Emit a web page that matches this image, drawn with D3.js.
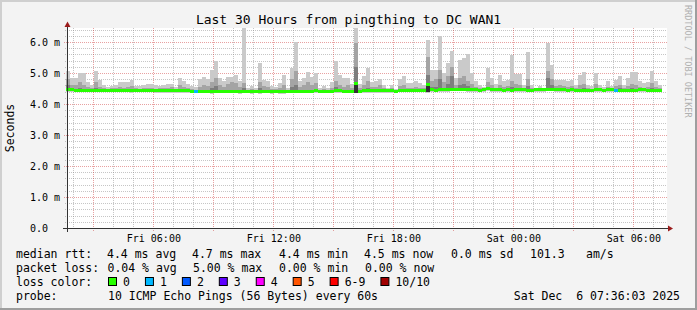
<!DOCTYPE html>
<meta charset="utf-8">
<head>
    <title>Last 30 Hours from pingthing to DC WAN1</title>
    <script src="https://cdn.jsdelivr.net/npm/d3@7"></script>
</head>
<style>
body { margin: 0; background: #fff; }
svg text { font-family: 'DejaVu Sans Mono', monospace; fill: #000; }
.mono { white-space: pre; }
</style>
<body>
<svg width="697" height="310"></svg>
<script>

// smoke data: one column every 12 minutes, values in ms
const colStart = new Date(2025, 11, 5, 1, 38, 0);
const stepMin = 12;

const pingMax = [
    5.05, 4.83, 4.83, 5.00, 5.00, 4.72, 4.61, 5.05, 4.77, 4.61,
    4.56, 4.58, 4.61, 4.72, 4.72, 4.72, 4.77, 4.58, 4.58, 4.61,
    4.63, 4.63, 4.60, 4.58, 4.61, 4.63, 4.65, 4.54, 4.84, 4.75,
    4.63, 4.58, 4.54, 4.80, 4.87, 4.80, 5.10, 5.38, 4.84, 4.73,
    4.87, 4.87, 4.95, 4.73, 6.45, 4.50, 4.58, 4.52, 5.32, 4.78,
    4.73, 4.57, 4.55, 4.68, 4.92, 4.52, 5.15, 6.00, 4.73, 4.84,
    5.03, 4.86, 5.00, 4.52, 4.57, 4.52, 4.70, 5.40, 4.95, 4.85,
    4.85, 4.65, 6.45, 4.65, 4.90, 5.15, 4.72, 4.75, 4.80, 4.62,
    4.52, 4.60, 4.48, 4.80, 4.90, 4.68, 4.68, 4.75, 4.68, 4.62,
    6.05, 5.11, 5.11, 6.20, 5.00, 5.32, 5.72, 4.84, 5.43, 5.48,
    5.61, 5.00, 4.73, 4.62, 4.54, 5.16, 4.84, 4.65, 4.92, 4.75,
    4.78, 5.57, 4.97, 4.97, 4.62, 5.68, 4.62, 4.52, 4.57, 4.52,
    5.97, 5.25, 4.78, 4.78, 4.78, 4.75, 4.78, 4.62, 4.95, 5.03,
    4.62, 4.57, 5.00, 4.62, 4.54, 4.75, 4.57, 4.78, 4.89, 4.62,
    4.84, 5.03, 5.03, 4.73, 4.68, 4.71, 5.07, 4.73, 4.62
];

const ping9 = [
    4.80, 4.60, 4.62, 4.70, 4.62, 4.55, 4.52, 4.70, 4.55, 4.50,
    4.48, 4.50, 4.52, 4.55, 4.52, 4.55, 4.58, 4.50, 4.48, 4.50,
    4.52, 4.50, 4.48, 4.50, 4.52, 4.50, 4.55, 4.47, 4.60, 4.55,
    4.50, 4.48, 4.46, 4.55, 4.60, 4.58, 4.70, 4.84, 4.62, 4.55,
    4.65, 4.70, 4.68, 4.55, 4.68, 4.42, 4.48, 4.45, 4.70, 4.58,
    4.55, 4.48, 4.47, 4.52, 4.62, 4.45, 4.80, 5.05, 4.55, 4.62,
    4.70, 4.60, 4.68, 4.45, 4.48, 4.46, 4.52, 4.75, 4.62, 4.55,
    4.60, 4.50, 5.97, 4.52, 4.60, 4.75, 4.55, 4.55, 4.60, 4.50,
    4.48, 4.50, 4.44, 4.58, 4.62, 4.52, 4.52, 4.55, 4.52, 4.50,
    5.50, 4.75, 4.80, 5.10, 4.70, 4.90, 5.20, 4.62, 4.85, 4.90,
    4.73, 4.65, 4.55, 4.50, 4.52, 4.70, 4.60, 4.52, 4.62, 4.55,
    4.58, 4.75, 4.65, 4.62, 4.50, 4.80, 4.52, 4.48, 4.50, 4.48,
    5.05, 4.80, 4.58, 4.60, 4.58, 4.55, 4.58, 4.50, 4.62, 4.65,
    4.50, 4.48, 4.65, 4.50, 4.48, 4.55, 4.48, 4.58, 4.60, 4.50,
    4.58, 4.65, 4.62, 4.55, 4.52, 4.55, 4.68, 4.55, 4.50
];

const ping8 = [
    4.60, 4.49, 4.48, 4.52, 4.47, 4.48, 4.47, 4.52, 4.47, 4.47,
    4.47, 4.48, 4.47, 4.47, 4.48, 4.48, 4.47, 4.47, 4.47, 4.47,
    4.47, 4.47, 4.47, 4.46, 4.46, 4.46, 4.46, 4.46, 4.45, 4.45,
    4.45, 4.44, 4.43, 4.44, 4.43, 4.43, 4.50, 4.58, 4.43, 4.43,
    4.43, 4.43, 4.43, 4.43, 4.52, 4.42, 4.42, 4.43, 4.52, 4.43,
    4.43, 4.43, 4.43, 4.42, 4.42, 4.43, 4.55, 4.60, 4.43, 4.44,
    4.44, 4.44, 4.45, 4.44, 4.44, 4.44, 4.44, 4.55, 4.45, 4.44,
    4.44, 4.44, 5.20, 4.44, 4.45, 4.50, 4.45, 4.45, 4.45, 4.45,
    4.45, 4.45, 4.44, 4.47, 4.48, 4.48, 4.48, 4.48, 4.48, 4.48,
    4.95, 4.55, 4.55, 4.80, 4.49, 4.65, 4.90, 4.51, 4.62, 4.65,
    4.58, 4.50, 4.49, 4.48, 4.50, 4.55, 4.50, 4.49, 4.49, 4.48,
    4.49, 4.55, 4.49, 4.49, 4.49, 4.58, 4.48, 4.49, 4.49, 4.50,
    4.84, 4.62, 4.50, 4.50, 4.49, 4.48, 4.49, 4.48, 4.48, 4.50,
    4.48, 4.48, 4.50, 4.49, 4.48, 4.49, 4.49, 4.47, 4.50, 4.48,
    4.48, 4.50, 4.48, 4.49, 4.49, 4.48, 4.52, 4.47, 4.47
];

const pingMedian = [
    4.46, 4.46, 4.45, 4.45, 4.44, 4.45, 4.44, 4.45, 4.44, 4.44,
    4.44, 4.45, 4.44, 4.44, 4.45, 4.45, 4.44, 4.44, 4.44, 4.44,
    4.44, 4.44, 4.44, 4.43, 4.43, 4.43, 4.43, 4.43, 4.42, 4.42,
    4.42, 4.41, 4.40, 4.41, 4.40, 4.40, 4.40, 4.40, 4.40, 4.40,
    4.40, 4.40, 4.40, 4.40, 4.40, 4.39, 4.39, 4.40, 4.39, 4.40,
    4.40, 4.40, 4.40, 4.39, 4.39, 4.40, 4.41, 4.40, 4.40, 4.41,
    4.41, 4.41, 4.42, 4.41, 4.41, 4.41, 4.41, 4.42, 4.42, 4.41,
    4.41, 4.41, 4.67, 4.41, 4.42, 4.42, 4.42, 4.42, 4.42, 4.42,
    4.42, 4.42, 4.41, 4.44, 4.45, 4.45, 4.45, 4.45, 4.45, 4.45,
    4.63, 4.46, 4.45, 4.46, 4.46, 4.46, 4.47, 4.48, 4.48, 4.48,
    4.46, 4.47, 4.46, 4.45, 4.47, 4.49, 4.47, 4.46, 4.46, 4.45,
    4.46, 4.45, 4.46, 4.46, 4.46, 4.45, 4.45, 4.46, 4.46, 4.47,
    4.48, 4.48, 4.47, 4.47, 4.46, 4.45, 4.46, 4.45, 4.45, 4.45,
    4.45, 4.45, 4.46, 4.46, 4.45, 4.46, 4.46, 4.44, 4.45, 4.45,
    4.45, 4.45, 4.45, 4.46, 4.46, 4.45, 4.45, 4.44, 4.44
];

const pingMin = [
    4.38, 4.40, 4.39, 4.39, 4.38, 4.38, 4.37, 4.38, 4.38, 4.37,
    4.37, 4.38, 4.37, 4.37, 4.38, 4.38, 4.36, 4.37, 4.37, 4.37,
    4.37, 4.37, 4.36, 4.34, 4.34, 4.35, 4.36, 4.36, 4.35, 4.35,
    4.35, 4.34, 4.34, 4.35, 4.34, 4.34, 4.33, 4.34, 4.34, 4.34,
    4.34, 4.34, 4.34, 4.33, 4.34, 4.34, 4.33, 4.34, 4.33, 4.34,
    4.34, 4.33, 4.34, 4.33, 4.33, 4.34, 4.34, 4.34, 4.34, 4.35,
    4.35, 4.35, 4.35, 4.35, 4.34, 4.35, 4.35, 4.35, 4.36, 4.34,
    4.34, 4.35, 4.34, 4.35, 4.35, 4.36, 4.35, 4.36, 4.36, 4.36,
    4.36, 4.36, 4.35, 4.38, 4.38, 4.39, 4.38, 4.39, 4.38, 4.39,
    4.36, 4.39, 4.39, 4.39, 4.40, 4.40, 4.41, 4.42, 4.42, 4.42,
    4.40, 4.40, 4.39, 4.39, 4.39, 4.42, 4.40, 4.40, 4.39, 4.39,
    4.39, 4.39, 4.40, 4.39, 4.39, 4.38, 4.39, 4.40, 4.39, 4.40,
    4.41, 4.42, 4.40, 4.40, 4.39, 4.39, 4.40, 4.39, 4.39, 4.39,
    4.39, 4.39, 4.40, 4.39, 4.39, 4.40, 4.39, 4.38, 4.39, 4.39,
    4.39, 4.39, 4.39, 4.40, 4.39, 4.39, 4.39, 4.38, 4.38
];

// columns where the inner pings spread out (darkest smoke)
const darkCols = [72, 90];
const darkLow = [4.36, 4.37];
const darkHigh = [4.68, 4.63];

// columns with lost pings (all others lost 0 of 10)
const lossCols = [32, 137];
const lossCount = [1, 1];

const lossNames = ['0', '1', '2', '3', '4', '5', '6-9', '10/10'];
const lossColors = ['#26ff00', '#00b8ff', '#0059ff', '#5e00ff', '#ff00ff', '#ff5500', '#ff0000', '#a10000'];

const rttStats = ['4.4 ms avg', '4.7 ms max', '4.4 ms min', '4.5 ms now', '0.0 ms sd', '101.3', 'am/s'];
const lossStats = ['0.04 % avg', '5.00 % max', '0.00 % min', '0.00 % now'];

const svg = d3.select('svg'),
    width = +svg.attr('width'),
    height = +svg.attr('height');

const plotL = 67, plotT = 28, plotW = 600, plotH = 200;

const x = d3.scaleTime()
    .domain([new Date(2025, 11, 5, 1, 41, 0), new Date(2025, 11, 6, 7, 41, 0)])
    .range([plotL, plotL + plotW]);

const y = d3.scaleLinear()
    .domain([0, 6.45])
    .range([plotT + plotH, plotT]);

// background + 3d frame
svg.append('rect').attr('width', width).attr('height', height).attr('fill', '#f3f3f3');
svg.append('path').attr('d', `M0,0H${width}V2H2V${height}H0Z`).attr('fill', '#cfcfcf');
svg.append('path').attr('d', `M${width},${height}H0V${height - 2}H${width - 2}V0H${width}Z`).attr('fill', '#9e9e9e');
svg.append('rect').attr('x', plotL).attr('y', plotT).attr('width', plotW).attr('height', plotH).attr('fill', '#fff');

// grid
const grid = svg.append('g').attr('class', 'grid').attr('shape-rendering', 'crispEdges');
const hours = d3.timeHour.range(x.domain()[0], x.domain()[1]);
const minorY = y.ticks(32).filter(v => v > 0 && Math.abs(v - Math.round(v)) > 1e-6);
const majorY = y.ticks(6).filter(v => v > 0);
const gridGray = 'rgba(128,128,128,0.45)', gridRed = 'rgba(200,32,32,0.42)';

grid.selectAll('.hminor').data(minorY).enter().append('line')
    .attr('x1', plotL - 2).attr('x2', plotL + plotW)
    .attr('y1', d => Math.round(y(d)) + 0.5).attr('y2', d => Math.round(y(d)) + 0.5)
    .attr('stroke', gridGray).attr('stroke-dasharray', '1,1');

grid.selectAll('.vminor').data(hours.filter(h => h.getHours() % 3 !== 0)).enter().append('line')
    .attr('x1', d => Math.round(x(d)) + 0.5).attr('x2', d => Math.round(x(d)) + 0.5)
    .attr('y1', plotT).attr('y2', plotT + plotH + 2)
    .attr('stroke', gridGray).attr('stroke-dasharray', '1,1');

grid.selectAll('.hmajor').data(majorY).enter().append('line')
    .attr('x1', plotL - 3).attr('x2', plotL + plotW)
    .attr('y1', d => Math.round(y(d)) + 0.5).attr('y2', d => Math.round(y(d)) + 0.5)
    .attr('stroke', gridRed).attr('stroke-dasharray', '1,1');

grid.selectAll('.vmajor').data(hours.filter(h => h.getHours() % 3 === 0)).enter().append('line')
    .attr('x1', d => Math.round(x(d)) + 0.5).attr('x2', d => Math.round(x(d)) + 0.5)
    .attr('y1', plotT).attr('y2', plotT + plotH + 3)
    .attr('stroke', gridRed).attr('stroke-dasharray', '1,1');

// smoke
const cols = pingMax.map((m, i) => {
    const t0 = d3.timeMinute.offset(colStart, i * stepMin);
    const li = lossCols.indexOf(i);
    return {
        t0: t0,
        t1: d3.timeMinute.offset(t0, stepMin),
        max: m, p9: ping9[i], p8: ping8[i], med: pingMedian[i], min: pingMin[i],
        loss: li < 0 ? 0 : lossCount[li]
    };
});

const smoke = svg.append('g').attr('class', 'smoke').attr('shape-rendering', 'crispEdges');

function band(cls, lo, hi, fill) {
    smoke.selectAll('.' + cls).data(cols).enter().append('rect')
        .attr('class', cls)
        .attr('x', d => x(d.t0))
        .attr('width', d => x(d.t1) - x(d.t0))
        .attr('y', d => y(hi(d)))
        .attr('height', d => Math.max(0, y(lo(d)) - y(hi(d))))
        .attr('fill', fill);
}

band('b1', d => d.min, d => d.max, '#cacaca');
band('b2', d => d.med, d => d.p9, '#a4a4a4');
band('b3', d => d.med, d => d.p8, '#7e7e7e');

smoke.selectAll('.dark').data(darkCols).enter().append('rect')
    .attr('x', i => x(cols[i].t0))
    .attr('width', i => x(cols[i].t1) - x(cols[i].t0))
    .attr('y', (i, k) => y(darkHigh[k]))
    .attr('height', (i, k) => y(darkLow[k]) - y(darkHigh[k]))
    .attr('fill', '#323232');

smoke.selectAll('.median').data(cols).enter().append('rect')
    .attr('x', d => x(d.t0))
    .attr('width', d => x(d.t1) - x(d.t0))
    .attr('y', d => y(d.med) - 1.5)
    .attr('height', 3)
    .attr('fill', d => lossColors[d.loss]);

// axes
const axis = svg.append('g').attr('shape-rendering', 'crispEdges');
axis.append('line').attr('x1', plotL - 4).attr('x2', plotL + plotW + 2)
    .attr('y1', plotT + plotH + 0.5).attr('y2', plotT + plotH + 0.5).attr('stroke', '#333');
axis.append('line').attr('x1', plotL + 0.5).attr('x2', plotL + 0.5)
    .attr('y1', plotT + plotH + 4).attr('y2', plotT - 2).attr('stroke', '#333');
svg.append('path')
    .attr('d', `M${plotL + plotW + 1},${plotT + plotH - 2.5}L${plotL + plotW + 6},${plotT + plotH + 0.5}L${plotL + plotW + 1},${plotT + plotH + 3.5}Z`)
    .attr('fill', '#9b1c1c');
svg.append('path')
    .attr('d', `M${plotL - 2.5},${plotT - 1}L${plotL + 0.5},${plotT - 6.5}L${plotL + 3.5},${plotT - 1}Z`)
    .attr('fill', '#9b1c1c');

const xAxis = d3.axisBottom(x)
    .tickValues(hours.filter(h => h.getHours() % 6 === 0))
    .tickFormat(d3.timeFormat('%a %H:%M'))
    .tickSizeInner(0).tickSizeOuter(0).tickPadding(6.5);

svg.append('g')
    .attr('transform', `translate(0,${plotT + plotH})`)
    .call(xAxis)
    .call(g => g.select('.domain').remove())
    .call(g => g.selectAll('text').attr('font-family', 'DejaVu Sans Mono').attr('font-size', 10).attr('fill', '#000'));

const yAxis = d3.axisLeft(y)
    .tickValues(y.ticks(6))
    .tickFormat(v => v === 0 ? '0.0' : d3.format('.1f')(v) + ' m')
    .tickSizeInner(0).tickSizeOuter(0);

svg.append('g')
    .attr('transform', `translate(${plotL},0)`)
    .call(yAxis)
    .call(g => g.select('.domain').remove())
    .call(g => g.selectAll('text')
        .attr('x', 30 - plotL)
        .attr('text-anchor', 'start')
        .attr('font-family', 'DejaVu Sans Mono').attr('font-size', 10).attr('fill', '#000'));

// titles
svg.append('text')
    .attr('x', width / 2).attr('y', 23.5)
    .attr('text-anchor', 'middle')
    .attr('font-size', 13)
    .text('Last 30 Hours from pingthing to DC WAN1');

svg.append('text')
    .attr('transform', `translate(14,${plotT + plotH / 2}) rotate(-90)`)
    .attr('text-anchor', 'middle')
    .attr('font-size', 11.5)
    .text('Seconds');

svg.append('text')
    .attr('transform', 'translate(684.5,5) rotate(90)')
    .attr('font-size', 8.5)
    .style('fill', '#b0b0b0')
    .text('RRDTOOL / TOBI OETIKER');

// legend
const legend = svg.append('g').attr('font-size', 11.5);
const rowY = [258, 272, 286, 300];
const rttX = [107, 192, 279, 364, 451, 530, 586];
const lossX = [107.5, 193, 279, 365];

['median rtt:', 'packet loss:', 'loss color:', 'probe:'].forEach((t, i) => {
    legend.append('text').attr('x', 16).attr('y', rowY[i]).text(t);
});

legend.selectAll('.rtt').data(rttStats).enter().append('text')
    .attr('x', (d, i) => rttX[i]).attr('y', rowY[0]).text(d => d);

legend.selectAll('.loss').data(lossStats).enter().append('text')
    .attr('x', (d, i) => lossX[i]).attr('y', rowY[1]).text(d => d);

let cx = 108;
lossNames.forEach((name, i) => {
    legend.append('rect')
        .attr('x', cx + 0.5).attr('y', rowY[2] - 8.5)
        .attr('width', 8).attr('height', 8)
        .attr('fill', lossColors[i]).attr('stroke', '#000').attr('stroke-width', 1);
    const t = legend.append('text').attr('x', cx + 15).attr('y', rowY[2]).text(name);
    cx += 15 + t.node().getComputedTextLength() + 15;
});

legend.append('text').attr('x', 108).attr('y', rowY[3])
    .text('10 ICMP Echo Pings (56 Bytes) every 60s');
legend.append('text').attr('class', 'mono').attr('x', 680).attr('y', rowY[3])
    .attr('text-anchor', 'end')
    .text('Sat Dec  6 07:36:03 2025');

</script>
</body>
